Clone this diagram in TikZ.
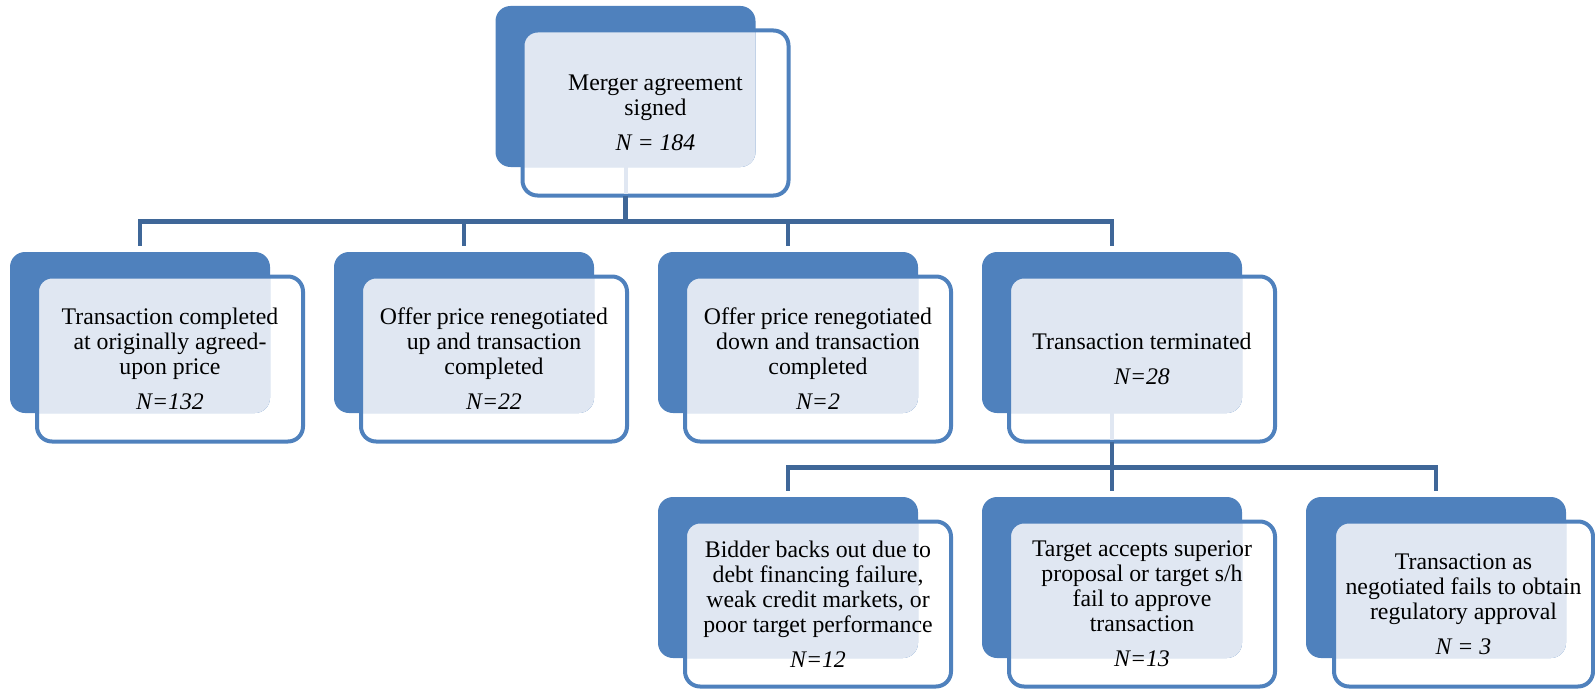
\documentclass[tikz,border=0pt]{standalone}
\usepackage{fontspec}
\setmainfont{Liberation Serif}
\usetikzlibrary{positioning}

\definecolor{boxblue}{RGB}{79,129,189}
\definecolor{linkblue}{RGB}{63,103,152}
\definecolor{dotfill}{RGB}{224,231,242}

\begin{document}
\begin{tikzpicture}[x=0.5pt, y=-0.5pt, inner sep=0pt, outer sep=0pt,
	back/.style={rectangle, rounded corners=7.5pt, fill=boxblue, minimum width=130pt, minimum height=80.5pt},
	front/.style={rectangle, rounded corners=7.5pt, draw=boxblue, line width=2pt, minimum width=133pt, minimum height=82.5pt, align=center, font=\fontsize{11.9}{12.5}\selectfont},
	link/.style={draw=linkblue, line width=2.2pt},
	stub/.style={draw=dotfill, line width=2pt, shorten >=1pt}]
	\useasboundingbox (0,0) rectangle (1595,690);
	% back panels
	\node (signedb) [back] at (625.5,86.5) {};
	\node (origb) [back] at (140,332.5) {};
	\node (upb) [back, right=32pt of origb] {};
	\node (downb) [back, right=32pt of upb] {};
	\node (termb) [back, right=32pt of downb] {};
	\node (debtb) [back, below=42pt of downb] {};
	\node (supb) [back, right=32pt of debtb] {};
	\node (regb) [back, right=32pt of supb] {};
	% light overlap
	\foreach \b in {signed, orig, up, down, term, debt, sup, reg} {
		\coordinate (\b c) at ([shift={(30,26.5)}]\b b.center);
		\begin{scope}
			\clip[rounded corners=7.5pt] (\b b.south west) rectangle (\b b.north east);
			\fill[dotfill, rounded corners=7.5pt] ([shift={(-133,-82.5)}]\b c) rectangle ([shift={(133,82.5)}]\b c);
		\end{scope}
	}
	% front panels
	\node (signed) [front] at (signedc) {Merger agreement\\signed\\[5pt]\textit{N = 184}};
	\node (orig) [front] at (origc) {Transaction completed\\at originally agreed-\\upon price\\[5pt]\textit{N=132}};
	\node (up) [front] at (upc) {Offer price renegotiated\\up and transaction\\completed\\[5pt]\textit{N=22}};
	\node (down) [front] at (downc) {Offer price renegotiated\\down and transaction\\completed\\[5pt]\textit{N=2}};
	\node (term) [front] at (termc) {Transaction terminated\\[5pt]\textit{N=28}};
	\node (debt) [front] at (debtc) {Bidder backs out due to\\debt financing failure,\\weak credit markets, or\\poor target performance\\[5pt]\textit{N=12}};
	\node (sup) [front] at (supc) {Target accepts superior\\proposal or target s/h\\fail to approve\\transaction\\[5pt]\textit{N=13}};
	\node (reg) [front, minimum width=129.5pt, xshift=-1.25pt] at (regc) {Transaction as\\negotiated fails to obtain\\regulatory approval\\[5pt]\textit{N = 3}};
	\draw[stub] (signedb.south) -- (signedb |- signed.south);
	\draw[stub] (termb.south) -- (termb |- term.south);
	% connectors
	\draw[link] (signedb |- signed.south) -- ++(0,26) coordinate (bar);
	\foreach \c in {origb, upb, downb, termb}
		\draw[link] (bar) -| ([yshift=3pt]\c.north);
	\draw[link] (termb |- term.south) -- ++(0,26) coordinate (bar2);
	\foreach \c in {debtb, supb, regb}
		\draw[link] (bar2) -| ([yshift=3pt]\c.north);
\end{tikzpicture}
\end{document}
